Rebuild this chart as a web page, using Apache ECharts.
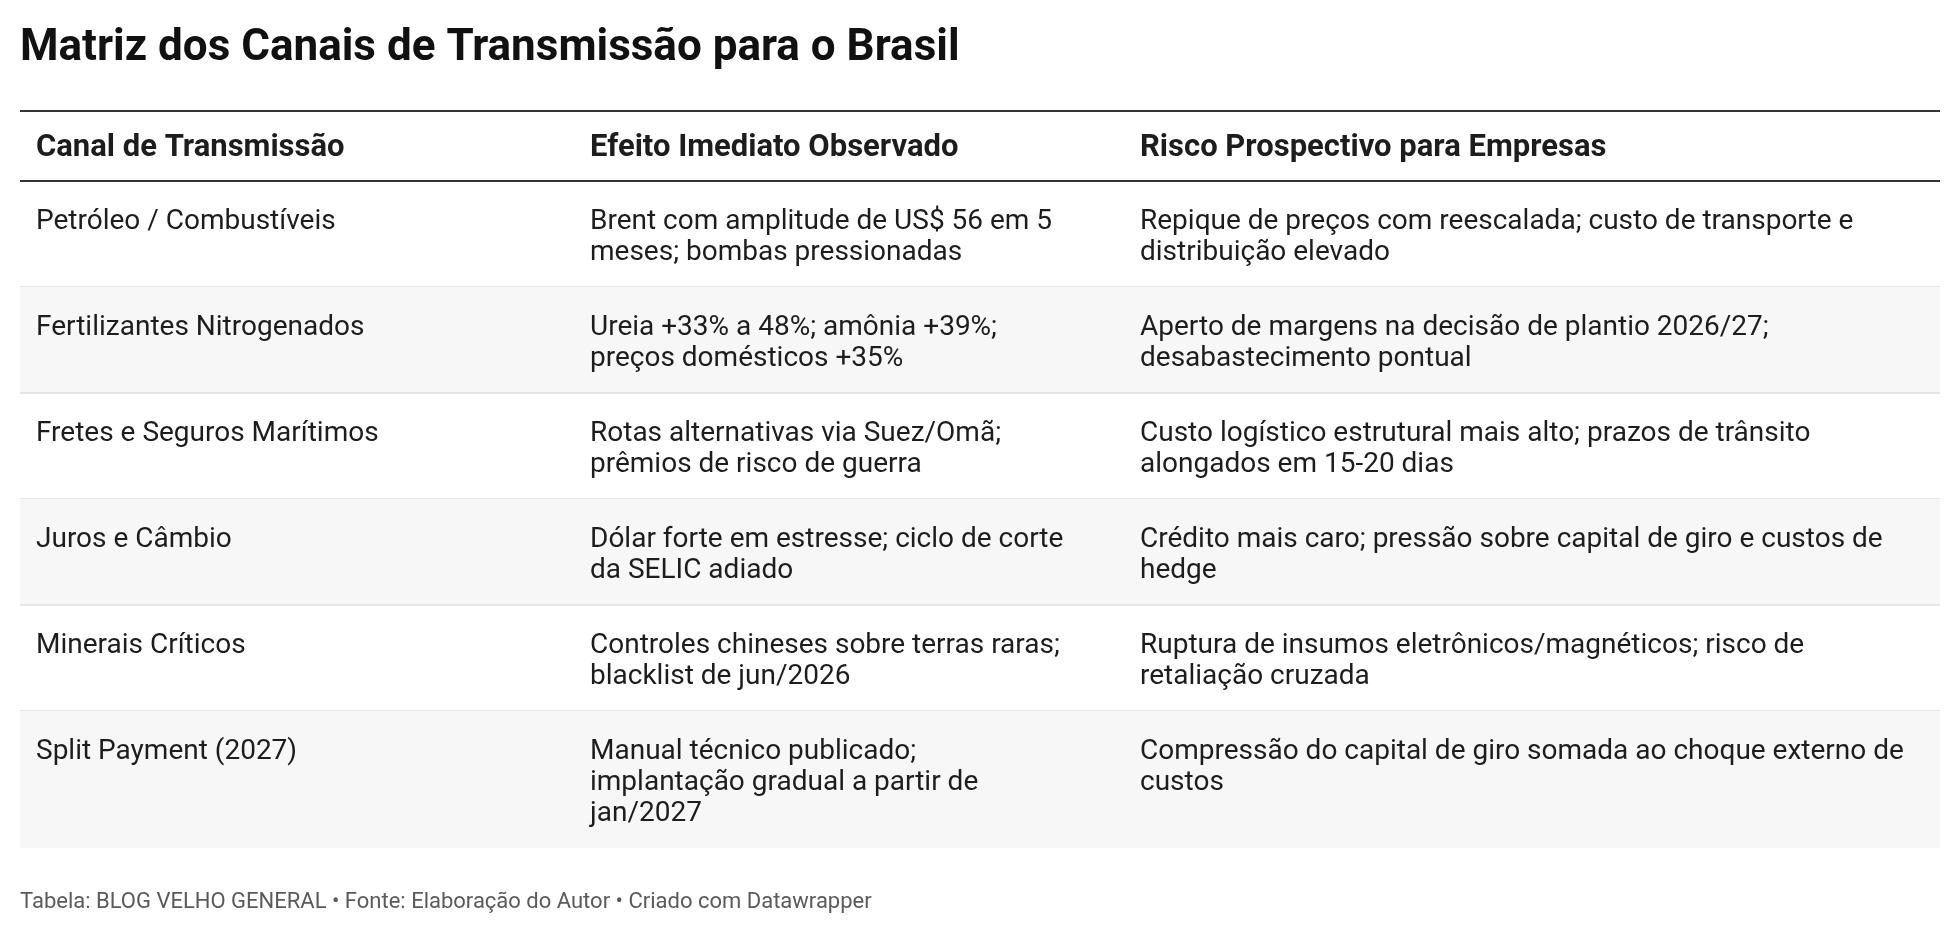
<!DOCTYPE html>
<html>
<head>
<meta charset="utf-8">
<script src="https://cdn.jsdelivr.net/npm/echarts@6/dist/echarts.min.js"></script>
<style>
  html, body { margin: 0; padding: 0; background: #fff; }
  #chart { width: 1960px; height: 934px; }
</style>
</head>
<body>
<div id="chart"></div>
<script>
// table content
const title = 'Matriz dos Canais de Transmissão para o Brasil';
const footer = 'Tabela: BLOG VELHO GENERAL • Fonte: Elaboração do Autor • Criado com Datawrapper';
const columns = ['Canal de Transmissão', 'Efeito Imediato Observado', 'Risco Prospectivo para Empresas'];
const canais = [
  'Petróleo / Combustíveis',
  'Fertilizantes Nitrogenados',
  'Fretes e Seguros Marítimos',
  'Juros e Câmbio',
  'Minerais Críticos',
  'Split Payment (2027)',
];
const efeitos = [
  'Brent com amplitude de US$ 56 em 5\nmeses; bombas pressionadas',
  'Ureia +33% a 48%; amônia +39%;\npreços domésticos +35%',
  'Rotas alternativas via Suez/Omã;\nprêmios de risco de guerra',
  'Dólar forte em estresse; ciclo de corte\nda SELIC adiado',
  'Controles chineses sobre terras raras;\nblacklist de jun/2026',
  'Manual técnico publicado;\nimplantação gradual a partir de\njan/2027',
];
const riscos = [
  'Repique de preços com reescalada; custo de transporte e\ndistribuição elevado',
  'Aperto de margens na decisão de plantio 2026/27;\ndesabastecimento pontual',
  'Custo logístico estrutural mais alto; prazos de trânsito\nalongados em 15-20 dias',
  'Crédito mais caro; pressão sobre capital de giro e custos de\nhedge',
  'Ruptura de insumos eletrônicos/magnéticos; risco de\nretaliação cruzada',
  'Compressão do capital de giro somada ao choque externo de\ncustos',
];

// layout
const FONT = 'Roboto';
const TABLE_W = 1920;
const COL_EDGES = [0, 554, 1104];
const CELL_PAD_X = 16;
const LINE_H = 31;
const PAD_Y = 22;
const TEXT_NUDGE = 3.5;
const HEADER_H = 70;

const cells = canais.map((c, i) => [c, efeitos[i], riscos[i]]);
const rowRanges = [];
let cursor = HEADER_H;
cells.forEach(row => {
  const lines = Math.max(...row.map(t => t.split('\n').length));
  const h = lines * LINE_H + PAD_Y * 2;
  rowRanges.push([cursor, cursor + h]);
  cursor += h;
});
const TOTAL_H = cursor;

const chart = echarts.init(document.getElementById('chart'), null, { renderer: 'canvas' });

function headerItem(params, api) {
  const a = api.coord([0, 0]);
  const b = api.coord([TABLE_W, HEADER_H]);
  const children = [
    { type: 'line', shape: { x1: a[0], y1: a[1], x2: b[0], y2: a[1] }, style: { stroke: '#333', lineWidth: 2 } },
    { type: 'line', shape: { x1: a[0], y1: b[1], x2: b[0], y2: b[1] }, style: { stroke: '#333', lineWidth: 2 } },
  ];
  columns.forEach((col, c) => {
    const x = api.coord([COL_EDGES[c], 0])[0] + CELL_PAD_X;
    children.push({
      type: 'text',
      x: x,
      y: (a[1] + b[1]) / 2 + 2.5,
      style: {
        text: col, fill: '#1d1d1d', fontFamily: FONT, fontSize: 31, fontWeight: 700,
        align: 'left', verticalAlign: 'middle',
      },
    });
  });
  return { type: 'group', children };
}

function rowItem(params, api) {
  const i = api.value(0);
  const top = api.value(1);
  const bottom = api.value(2);
  const a = api.coord([0, top]);
  const b = api.coord([TABLE_W, bottom]);
  const children = [];
  if (i % 2 === 1) {
    children.push({ type: 'rect', shape: { x: a[0], y: a[1], width: b[0] - a[0], height: b[1] - a[1] }, style: { fill: '#f7f7f7' } });
  }
  if (i < cells.length - 1) {
    children.push({ type: 'line', shape: { x1: a[0], y1: b[1], x2: b[0], y2: b[1] }, style: { stroke: '#e6e6e6', lineWidth: 2 } });
  }
  cells[i].forEach((txt, c) => {
    const x = api.coord([COL_EDGES[c], top])[0] + CELL_PAD_X;
    children.push({
      type: 'text',
      x: x,
      y: a[1] + PAD_Y + TEXT_NUDGE,
      style: {
        text: txt, fill: '#1d1d1d', fontFamily: FONT, fontSize: 28, fontWeight: 400,
        lineHeight: LINE_H, align: 'left', verticalAlign: 'top',
      },
    });
  });
  return { type: 'group', children };
}

chart.setOption({
  backgroundColor: '#fff',
  animation: false,
  title: [
    {
      text: title, left: 20, top: 23, padding: 0,
      textStyle: { fontFamily: FONT, fontSize: 44, fontWeight: 700, color: '#111', lineHeight: 52 },
    },
    {
      text: footer, left: 20, top: 887, padding: 0,
      textStyle: { fontFamily: FONT, fontSize: 22, fontWeight: 400, color: '#5a5a5a', lineHeight: 30 },
    },
  ],
  grid: { left: 20, width: TABLE_W, top: 111, height: TOTAL_H },
  xAxis: { type: 'value', min: 0, max: TABLE_W, show: false },
  yAxis: { type: 'value', min: 0, max: TOTAL_H, inverse: true, show: false },
  series: [
    {
      type: 'custom', silent: true, clip: false,
      renderItem: rowItem,
      data: rowRanges.map((r, i) => [i, r[0], r[1]]),
    },
    {
      type: 'custom', silent: true, clip: false,
      renderItem: headerItem,
      data: [[0]],
    },
  ],
});
</script>
</body>
</html>
